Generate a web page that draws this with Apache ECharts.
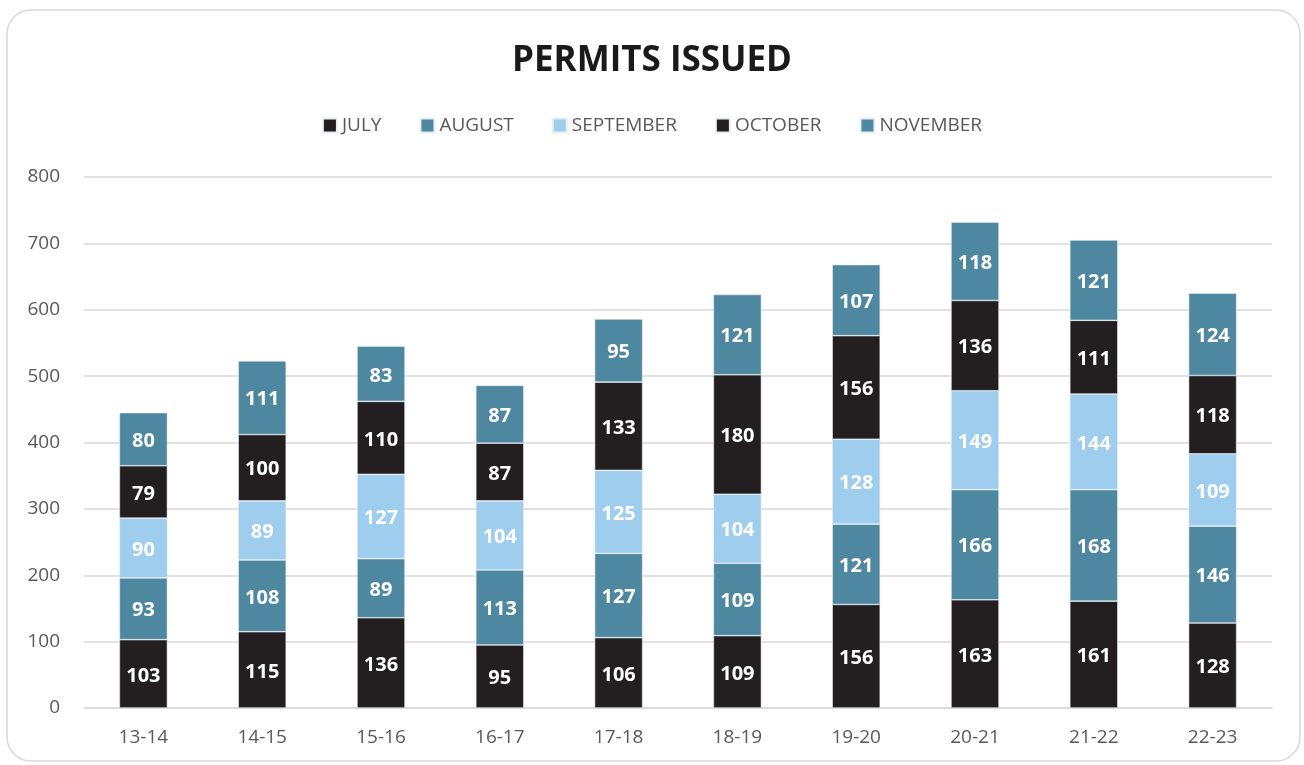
<!DOCTYPE html>
<html>
<head>
<meta charset="utf-8">
<script src="https://cdn.jsdelivr.net/npm/echarts@6/dist/echarts.min.js"></script>
<style>
html, body { margin: 0; padding: 0; background: #fff; }
#chart { width: 1304px; height: 765px; }
</style>
</head>
<body>
<div id="chart"></div>
<script>
// categories and series values
var years = ["13-14", "14-15", "15-16", "16-17", "17-18", "18-19", "19-20", "20-21", "21-22", "22-23"];
var july = [103, 115, 136, 95, 106, 109, 156, 163, 161, 128];
var august = [93, 108, 89, 113, 127, 109, 121, 166, 168, 146];
var september = [90, 89, 127, 104, 125, 104, 128, 149, 144, 109];
var october = [79, 100, 110, 87, 133, 180, 156, 136, 111, 118];
var november = [80, 111, 83, 87, 95, 121, 107, 118, 121, 124];

var font = "'Open Sans', sans-serif";
var dark = "#231f20", teal = "#4e87a0", light = "#9fcdee";

function makeSeries(name, data, color) {
  return {
    name: name,
    type: "bar",
    stack: "total",
    barWidth: 48,
    data: data,
    itemStyle: { color: color, borderColor: "#e8eef2", borderWidth: 0.6 },
    label: {
      show: true,
      position: "inside",
      color: "#fff",
      fontFamily: font,
      fontWeight: "bold",
      fontSize: 20,
      offset: [0, 2]
    }
  };
}

var chart = echarts.init(document.getElementById("chart"));
chart.setOption({
  animation: false,
  graphic: [{
    type: "rect",
    shape: { x: 7, y: 10, width: 1293, height: 751, r: 24 },
    style: { fill: "none", stroke: "#d9d9d9", lineWidth: 1.5 },
    silent: true
  }],
  title: {
    text: "PERMITS ISSUED",
    left: "center",
    top: 39,
    textStyle: { fontFamily: font, fontWeight: "bold", fontSize: 35, color: "#1a1a1a" }
  },
  legend: {
    top: 111,
    left: "center",
    icon: "rect",
    itemWidth: 14,
    itemHeight: 14,
    itemGap: 38,
    textStyle: { fontFamily: font, fontSize: 19, color: "#595959" },
    data: ["JULY", "AUGUST", "SEPTEMBER", "OCTOBER", "NOVEMBER"]
  },
  grid: { left: 84, right: 32, top: 177, bottom: 57 },
  xAxis: {
    type: "category",
    data: years,
    axisLine: { lineStyle: { color: "#d9d9d9", width: 1.5 } },
    axisTick: { show: false },
    axisLabel: { fontFamily: font, fontSize: 19, color: "#595959", margin: 20 }
  },
  yAxis: {
    type: "value",
    min: 0,
    max: 800,
    interval: 100,
    axisLine: { show: false },
    axisTick: { show: false },
    splitLine: { lineStyle: { color: "#d9d9d9", width: 1.5 } },
    axisLabel: { fontFamily: font, fontSize: 19, color: "#595959", margin: 24 }
  },
  series: [
    makeSeries("JULY", july, dark),
    makeSeries("AUGUST", august, teal),
    makeSeries("SEPTEMBER", september, light),
    makeSeries("OCTOBER", october, dark),
    makeSeries("NOVEMBER", november, teal)
  ]
});
</script>
</body>
</html>
